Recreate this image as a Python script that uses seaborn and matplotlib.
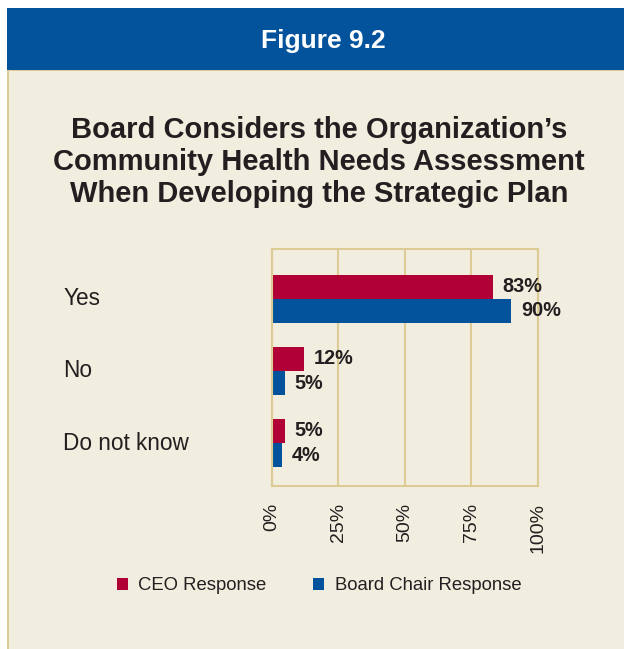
"""
    Figure 9.2 - board considers the CHNA when developing the strategic plan
"""
import seaborn as sns
import pandas as pd
import matplotlib.pyplot as plt
import matplotlib.transforms as mtransforms
from matplotlib.patches import Rectangle

answers = ['Yes', 'No', 'Do not know']
ceo = [83, 12, 5]
board_chair = [90, 5, 4]
series = ['CEO Response', 'Board Chair Response']
x_ticks = [0, 25, 50, 75, 100]
x_tick_labels = ['0%', '25%', '50%', '75%', '100%']

red = '#b00036'
blue = '#02539c'
cream = '#f1eddf'
gold = '#dccb94'
ink = '#231f20'

df = pd.DataFrame({
    'answer': answers * 2,
    'value': ceo + board_chair,
    'respondent': [series[0]] * 3 + [series[1]] * 3,
})

sns.set_theme(style='white')
plt.rcParams['font.family'] = ['Liberation Sans', 'DejaVu Sans']

W, H = 624, 649
fig = plt.figure(figsize=(W / 100, H / 100), dpi=100)
fig.patch.set_facecolor('white')

# panel + header (behind the axes)
fig.patches.append(Rectangle((7 / W, 0), 1 - 7 / W, (H - 70) / H, transform=fig.transFigure,
                             facecolor=cream, edgecolor='none', zorder=-3))
fig.patches.append(Rectangle((7 / W, 0), 2 / W, (H - 70) / H, transform=fig.transFigure,
                             facecolor=gold, edgecolor='none', zorder=-2))
fig.patches.append(Rectangle((7 / W, (H - 71) / H), 1 - 7 / W, 1.5 / H, transform=fig.transFigure,
                             facecolor=gold, edgecolor='none', zorder=-2))
fig.patches.append(Rectangle((7 / W, (H - 70) / H), 1 - 7 / W, 62 / H, transform=fig.transFigure,
                             facecolor=blue, edgecolor='none', zorder=-1))

fig.text(323 / W, 1 - 41 / H, 'Figure 9.2', color='white', fontsize=19, fontweight='bold',
         ha='center', va='center')
fig.text(319 / W, 1 - 162 / H,
         'Board Considers the Organization\u2019s\nCommunity Health Needs Assessment\nWhen Developing the Strategic Plan',
         color=ink, fontsize=21, fontweight='bold', ha='center', va='center', linespacing=1.17)

ax = fig.add_axes([271.7 / W, (H - 486) / H, 266.3 / W, 237 / H])
ax.set_facecolor('none')

sns.barplot(data=df, x='value', y='answer', hue='respondent', order=answers, hue_order=series,
            orient='h', palette=[red, blue], saturation=1, width=0.667, linewidth=0, ax=ax)

for cont in ax.containers:
    ax.bar_label(cont, labels=['%d%%' % v for v in cont.datavalues], padding=7,
                 fontsize=14.3, fontweight='bold', color=ink)

ax.set_xlim(0, 100)
ax.set_ylim(2.597, -0.694)
ax.set_xticks(x_ticks)
ax.set_xticklabels(x_tick_labels, rotation=90, fontsize=14, color=ink)
ax.tick_params(axis='x', length=0, pad=12)
ax.set_yticks([])
ax.set_xlabel('')
ax.set_ylabel('')
ax.grid(axis='x', color=gold, linewidth=1.5)
ax.set_axisbelow(True)
for s in ax.spines.values():
    s.set_color(gold)
    s.set_linewidth(1.5)

trans = mtransforms.blended_transform_factory(fig.transFigure, ax.transData)
for i, a in enumerate(answers):
    ax.text(63 / W, i, a, transform=trans, ha='left', va='center', fontsize=16.3, color=ink)

sns.move_legend(ax, loc='center', bbox_to_anchor=(319 / W, (H - 586) / H),
                bbox_transform=fig.transFigure, ncol=2, frameon=False, title=None,
                fontsize=13.3, handlelength=0.62, handleheight=0.62, handletextpad=0.55,
                columnspacing=2.5)
for t in ax.get_legend().get_texts():
    t.set_color(ink)

plt.savefig('out.png', dpi=100, facecolor=fig.get_facecolor())
